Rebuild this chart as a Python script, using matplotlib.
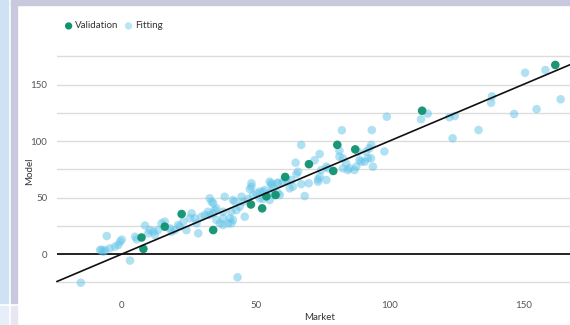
import matplotlib
matplotlib.use("Agg")
import matplotlib.pyplot as plt
from matplotlib.patches import Rectangle

# ---- data ----
val_x = [7.3, 8.0, 16.0, 22.3, 34.1, 48.2, 52.4, 54.0, 57.4, 61.0, 69.9, 79.0, 80.5, 87.2, 112.2, 162.0]
val_y = [14.6, 4.5, 24.2, 35.4, 21.2, 43.8, 40.4, 51.0, 52.2, 68.2, 79.5, 73.5, 96.6, 92.6, 126.8, 167.3]

fit_x = [-15.4, -7.6, -6.3, -5.7, -4.5, -2.6, -1.4, -0.7, -0.1, -8.2, -7.0, 3.0, 43.2,
         4.9, 5.5, 8.6, 9.8, 10.4, 11.7, 12.3, 13.5, 14.8, 16.0, 17.9, 18.5, 19.8, 21.0,
         21.6, 22.9, 24.1, 25.4, 26.0, 27.2, 27.9, 28.5, 29.7, 31.0, 32.2, 32.8, 34.1, 34.7,
         32.8, 33.5, 35.3, 36.6, 37.8, 38.4, 39.7, 40.3, 40.9, 41.5, 42.8, 44.0, 44.7, 45.9,
         47.1, 48.4, 49.0, 50.3, 51.5, 52.7, 53.4, 55.2, 55.8, 56.5, 58.3, 59.0, 61.4, 63.9,
         48.4, 47.8, 55.2, 58.2, 60.2, 55.9, 58.3, 51.5, 41.5, 42.2, 45.3, 37.8, 52.7, 55.2,
         35.3, 37.8, 34.1, 40.9,
         63.3, 65.2, 65.8, 62.7, 64.9, 67.0, 67.0, 69.8, 68.3, 72.0, 73.9, 73.3, 73.9, 73.3,
         74.5, 76.4, 77.0, 76.4, 81.3, 81.3, 82.6, 82.6, 83.8, 84.4, 85.1, 86.9, 87.6, 88.8,
         90.7, 88.2, 91.3, 92.5, 93.2, 93.8, 91.9, 93.1, 98.1, 89.4,
         82.2, 93.4, 99.0, 111.8, 114.3, 122.4, 124.4, 123.6, 133.3, 138.3, 138.0, 146.6,
         155.0, 150.7, 158.3, 164.0]
fit_y = [-25.4, 3.8, 3.5, 15.9, 5.0, 6.5, 8.0, 10.9, 12.7, 3.5, 2.0, -5.8, -20.6,
         15.3, 13.0, 25.2, 18.3, 21.2, 19.8, 16.8, 21.2, 27.1, 28.6, 22.7, 19.8, 21.2, 25.7,
         24.2, 28.6, 21.2, 31.6, 36.0, 31.6, 27.1, 18.3, 33.0, 34.5, 37.4, 34.5, 36.0, 38.9,
         49.3, 46.3, 30.1, 27.1, 31.6, 50.7, 27.1, 31.6, 37.4, 30.1, 38.9, 41.9, 50.7, 33.0,
         48.7, 59.6, 52.2, 53.7, 49.3, 48.7, 56.6, 53.7, 62.6, 58.1, 62.6, 52.2, 65.5, 59.6,
         62.6, 57.5, 64.0, 63.1, 64.0, 61.0, 53.7, 55.2, 47.8, 46.3, 46.3, 25.7, 55.1, 47.8,
         40.4, 37.4, 44.9, 27.2,
         65.5, 70.8, 72.8, 58.1, 80.8, 96.5, 61.9, 62.6, 51.3, 83.0, 88.5, 66.1, 68.4, 64.0,
         74.3, 77.3, 75.8, 65.5, 91.4, 86.1, 84.7, 75.8, 80.2, 74.3, 75.8, 74.3, 77.3, 83.2,
         81.7, 90.5, 90.6, 93.5, 96.5, 77.3, 84.7, 84.7, 90.8, 81.7,
         109.5, 109.7, 121.5, 119.3, 124.2, 121.0, 122.1, 102.4, 109.7, 139.5, 133.9, 123.9,
         128.2, 160.4, 162.8, 136.9]

fit_line_x = [-24.3, 167.5]
fit_line_y = [-24.3, 167.5]

x_ticks = [0, 50, 100, 150]
y_ticks = [0, 50, 100, 150]
grid_levels = [-25, 25, 50, 75, 100, 125, 150, 175]

plt.rcParams['font.family'] = ['Lato', 'DejaVu Sans']

fig = plt.figure(figsize=(5.7, 3.25), dpi=100)
W, H = 570, 325

def add_rect(x0, y0, w, h, color):
    fig.patches.append(Rectangle((x0 / W, 1 - (y0 + h) / H), w / W, h / H,
                                 transform=fig.transFigure, color=color, zorder=0))

add_rect(0, 0, 8, 303, '#cfe2f4')
add_rect(0, 306, 8, 19, '#e6eff9')
add_rect(11, 0, 6, 303, '#c9c9dd')
add_rect(11, 306, 6, 19, '#e7e7f1')
add_rect(11, 0, 559, 5, '#c9c9dd')

ax = fig.add_axes([57 / W, 1 - 291.3 / H, 1 - 57 / W, (291.3 - 50.6) / H])
ax.set_xlim(-24.3, 167.5)
ax.set_ylim(-33, 180)
for s in ax.spines.values():
    s.set_visible(False)

for g in grid_levels:
    ax.axhline(g, color='#dcdcdc', lw=1.0, zorder=1)
ax.axhline(0, color='#111111', lw=1.3, zorder=2)

ax.scatter(fit_x, fit_y, s=38, color='#62c4e8', alpha=0.5, edgecolors='none', zorder=3, label='Fitting')
ax.scatter(val_x, val_y, s=38, color='#0e9270', alpha=0.95, edgecolors='none', zorder=4, label='Validation')
ax.plot(fit_line_x, fit_line_y, color='#111111', lw=1.2, zorder=5, clip_on=False)

ax.set_xticks(x_ticks)
ax.set_yticks(y_ticks)
ax.tick_params(length=0, labelsize=7, colors='#555555')
ax.tick_params(axis='x', pad=7)
ax.tick_params(axis='y', pad=7)
ax.set_xlabel('Market', fontsize=7, color='#333333')
ax.set_ylabel('Model', fontsize=7, color='#333333')
ax.xaxis.set_label_coords((320 - 57) / (W - 57), -(318 - 291.3) / (291.3 - 50.6))
ax.yaxis.set_label_coords(-(57 - 30) / (W - 57), 0.5)
ax.xaxis.label.set_va('center')
ax.yaxis.label.set_va('center')

h, l = ax.get_legend_handles_labels()
leg = fig.legend(h[::-1], l[::-1], loc='center left', bbox_to_anchor=(55 / W, 1 - 26 / H),
                 ncol=2, frameon=False, fontsize=7, handletextpad=0.2, columnspacing=0.5,
                 markerscale=0.85, handlelength=1.0)
for t in leg.get_texts():
    t.set_color('#333333')
for lh in leg.legend_handles:
    lh.set_alpha(None)
leg.legend_handles[1].set_alpha(0.45)

fig.savefig('out.png', dpi=100)
